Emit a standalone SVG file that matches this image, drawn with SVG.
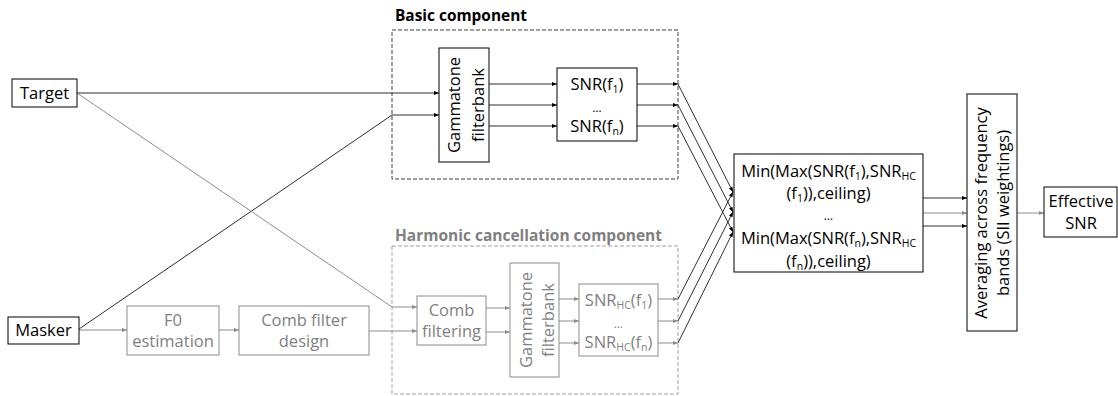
<svg xmlns="http://www.w3.org/2000/svg" width="1118" height="396" viewBox="0 0 1118 396">
<style>
text{font-family:"Open Sans","Liberation Sans",sans-serif;font-size:16.5px;fill:#000}
.g text,text.g{fill:#7f7f7f}
.box{fill:#fff;stroke:#000;stroke-width:1}
.gbox{fill:#fff;stroke:#8c8c8c;stroke-width:1}
.c{text-anchor:middle}
.title{font-weight:bold}
.dk{fill:none;stroke:#303030;stroke-width:1;marker-end:url(#ad)}
.gr{fill:none;stroke:#8c8c8c;stroke-width:1;marker-end:url(#ag)}
.sub{font-size:10.5px}
text.el{font-size:12px}
</style>
<defs>
<marker id="ad" markerUnits="userSpaceOnUse" markerWidth="6" markerHeight="6" refX="5" refY="3" orient="auto"><path d="M0,1 L5,3 L0,5 Z" fill="#000"/></marker>
<marker id="ag" markerUnits="userSpaceOnUse" markerWidth="6" markerHeight="6" refX="5" refY="3" orient="auto"><path d="M0,1 L5,3 L0,5 Z" fill="#8c8c8c"/></marker>
</defs>

<g id="basic-component">
<rect x="392" y="30" width="286" height="149" fill="none" stroke="#404040" stroke-dasharray="4,2"/>
<text x="395" y="21" class="title" textLength="132" lengthAdjust="spacingAndGlyphs">Basic component</text>
</g>
<g id="hc-component">
<rect x="392" y="246" width="286" height="148" fill="none" stroke="#a0a0a0" stroke-dasharray="4,2"/>
<text x="395" y="241" class="title g" textLength="267" lengthAdjust="spacingAndGlyphs">Harmonic cancellation component</text>
</g>

<g id="connectors">
<path class="dk" d="M77,93 H439"/>
<path class="dk" d="M79,329 L392,115 H439"/>
<path class="dk" d="M489,84 H557"/>
<path class="dk" d="M489,105 H557"/>
<path class="dk" d="M489,126 H557"/>
<path class="dk" d="M637,84 H678"/>
<path class="dk" d="M637,105 H678"/>
<path class="dk" d="M637,126 H678"/>
<path class="dk" d="M678,84 L733,192"/>
<path class="dk" d="M678,105 L733,212"/>
<path class="dk" d="M678,126 L733,232"/>
<path class="dk" d="M678,299 L733,192"/>
<path class="dk" d="M678,321 L733,212"/>
<path class="dk" d="M678,343 L733,232"/>
<path class="dk" d="M923,198 H967"/>
<path class="gr" d="M923,213 H967"/>
<path class="dk" d="M923,226 H967"/>
<path class="gr" d="M1017,213 H1044"/>
<path class="gr" d="M77,93 L392,307 H417"/>
<path class="gr" d="M79,330 H127"/>
<path class="gr" d="M219,330 H239"/>
<path class="gr" d="M369,331 L392,331 H417"/>
<path class="gr" d="M486,308 H510"/>
<path class="gr" d="M486,332 H510"/>
<path class="gr" d="M559,299 H579"/>
<path class="gr" d="M559,321 H579"/>
<path class="gr" d="M559,343 H579"/>
<path class="gr" d="M658,299 H678"/>
<path class="gr" d="M658,321 H678"/>
<path class="gr" d="M658,343 H678"/>
</g>

<g id="target">
<rect class="box" x="12" y="79" width="65" height="28"/>
<text class="c" x="44.5" y="99">Target</text>
</g>
<g id="masker">
<rect class="box" x="8" y="317" width="71" height="27"/>
<text class="c" x="43.5" y="336">Masker</text>
</g>

<g id="gammatone-basic">
<rect class="box" x="439" y="48" width="50" height="114"/>
<text class="c" transform="translate(460,105) rotate(-90)">Gammatone</text>
<text class="c" transform="translate(484,105) rotate(-90)">filterbank</text>
</g>
<g id="snr-basic">
<rect class="box" x="557" y="68" width="80" height="73"/>
<text class="c" x="597" y="90">SNR(f<tspan class="sub" dy="3">1</tspan><tspan dy="-3">)</tspan></text>
<text class="c el" x="597" y="112">…</text>
<text class="c" x="597" y="132">SNR(f<tspan class="sub" dy="3">n</tspan><tspan dy="-3">)</tspan></text>
</g>

<g id="f0-estimation" class="g">
<rect class="gbox" x="127" y="306" width="92" height="49"/>
<text class="c" x="173" y="326">F0</text>
<text class="c" x="173" y="347">estimation</text>
</g>
<g id="comb-filter-design" class="g">
<rect class="gbox" x="239" y="306" width="130" height="49"/>
<text class="c" x="304" y="326">Comb filter</text>
<text class="c" x="304" y="347">design</text>
</g>
<g id="comb-filtering" class="g">
<rect class="gbox" x="417" y="296" width="69" height="49"/>
<text class="c" x="451.5" y="316">Comb</text>
<text class="c" x="451.5" y="337">filtering</text>
</g>
<g id="gammatone-hc" class="g">
<rect class="gbox" x="510" y="263" width="49" height="114"/>
<text class="c" transform="translate(532,320) rotate(-90)">Gammatone</text>
<text class="c" transform="translate(554,320) rotate(-90)">filterbank</text>
</g>
<g id="snr-hc" class="g">
<rect class="gbox" x="579" y="284" width="79" height="72"/>
<text class="c" x="618.5" y="306">SNR<tspan class="sub" dy="3">HC</tspan><tspan dy="-3">(f</tspan><tspan class="sub" dy="3">1</tspan><tspan dy="-3">)</tspan></text>
<text class="c el" x="618.5" y="328">…</text>
<text class="c" x="618.5" y="348">SNR<tspan class="sub" dy="3">HC</tspan><tspan dy="-3">(f</tspan><tspan class="sub" dy="3">n</tspan><tspan dy="-3">)</tspan></text>
</g>

<g id="min-max">
<rect class="box" x="734" y="154" width="189" height="118"/>
<text class="c" x="828.5" y="177">Min(Max(SNR(f<tspan class="sub" dy="3">1</tspan><tspan dy="-3">),SNR</tspan><tspan class="sub" dy="3">HC</tspan></text>
<text class="c" x="828.5" y="199">(f<tspan class="sub" dy="3">1</tspan><tspan dy="-3">)),ceiling)</tspan></text>
<text class="c el" x="828.5" y="220">…</text>
<text class="c" x="828.5" y="244">Min(Max(SNR(f<tspan class="sub" dy="3">n</tspan><tspan dy="-3">),SNR</tspan><tspan class="sub" dy="3">HC</tspan></text>
<text class="c" x="828.5" y="267">(f<tspan class="sub" dy="3">n</tspan><tspan dy="-3">)),ceiling)</tspan></text>
</g>

<g id="averaging">
<rect class="box" x="967" y="94" width="50" height="237"/>
<text class="c" transform="translate(987,213) rotate(-90)">Averaging across frequency</text>
<text class="c" transform="translate(1009,213) rotate(-90)">bands (SII weightings)</text>
</g>
<g id="effective-snr">
<rect class="box" x="1044" y="187" width="73" height="50"/>
<text class="c" x="1081" y="207">Effective</text>
<text class="c" x="1081" y="229">SNR</text>
</g>
</svg>
